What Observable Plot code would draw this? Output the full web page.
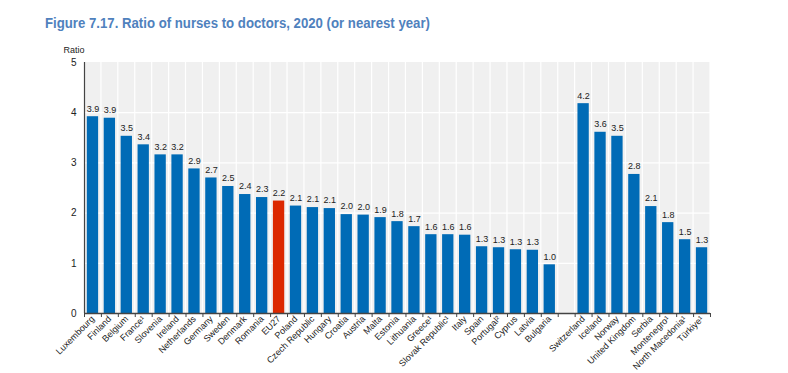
<!DOCTYPE html>
<html>
<head>
<meta charset="utf-8">
<script src="https://cdn.jsdelivr.net/npm/d3@7"></script>
<script src="https://cdn.jsdelivr.net/npm/@observablehq/plot@0.6"></script>
<style>
  body { margin: 0; background: #fff; width: 788px; height: 373px; position: relative; overflow: hidden; }
  #title { position: absolute; left: 45px; top: 15px; font-family: "Liberation Sans", Arial, sans-serif; font-weight: bold; font-size: 14.5px; line-height: 17px; color: #4f81bd; white-space: nowrap; transform: scaleX(0.91); transform-origin: left top; }
  #chart { position: absolute; left: 0; top: 30px; }
</style>
</head>
<body>
<div id="title">Figure 7.17. Ratio of nurses to doctors, 2020 (or nearest year)</div>
<div id="chart"></div>
<script>
const countries = ["Luxembourg","Finland","Belgium","France\u00B9","Slovenia","Ireland","Netherlands","Germany","Sweden","Denmark","Romania","EU27","Poland","Czech Republic","Hungary","Croatia","Austria","Malta","Estonia","Lithuania","Greece\u00B9","Slovak Republic\u00B9","Italy","Spain","Portugal\u00B2","Cyprus","Latvia","Bulgaria","","Switzerland","Iceland","Norway","United Kingdom","Serbia","Montenegro\u00B9","North Macedonia\u00B9","Türkiye\u00B9"];
const values = [3.92,3.89,3.53,3.36,3.16,3.16,2.88,2.70,2.53,2.37,2.31,2.24,2.14,2.11,2.09,1.97,1.96,1.91,1.83,1.73,1.57,1.57,1.56,1.33,1.31,1.27,1.26,0.97,null,4.18,3.61,3.53,2.77,2.13,1.81,1.47,1.31];
const highlight = "EU27";
const yTicks = [0,1,2,3,4,5];

const data = countries.map((c, i) => ({country: c, value: values[i]}));
const bars = data.filter(d => d.value != null);

const W = 788, H = 343, ML = 84, MR = 78, MT = 32, MB = 60;
const bw = (W - ML - MR) / countries.length;
const font = "Liberation Sans, Arial, sans-serif";

const chart = Plot.plot({
  width: W, height: H,
  marginLeft: ML, marginRight: MR, marginTop: MT, marginBottom: MB,
  style: {fontFamily: font, fontSize: "10px", color: "#222", background: "transparent", overflow: "visible"},
  x: {domain: countries, padding: 0, label: null},
  y: {domain: [0, 5], label: null},
  marks: [
    Plot.barY(countries, {x: d => d, y1: 0, y2: 5, fill: "#f0f0f0", insetLeft: 0.6, insetRight: 0.6}),
    Plot.ruleY([1,2,3,4], {stroke: "#fff", strokeWidth: 1.2}),
    Plot.barY(bars, {x: "country", y: "value", fill: d => d.country === highlight ? "#dc2800" : "#006bb6", insetLeft: 2.8, insetRight: 2.8}),
    Plot.text(bars, {x: "country", y: "value", text: d => d.value.toFixed(1), dy: -8, fill: "#222", fontSize: 9, fontFamily: font}),
    Plot.ruleY([0], {stroke: "#444", strokeWidth: 1.5}),
    Plot.ruleX([countries[0]], {y1: 0, y2: 5, dx: -bw / 2, stroke: "#444", strokeWidth: 1.2}),
    Plot.ruleX(countries, {x: d => d, y1: 0, y2: -0.08, dx: -bw / 2, stroke: "#444"}),
    Plot.ruleX([countries[countries.length - 1]], {y1: 0, y2: -0.08, dx: bw / 2, stroke: "#444"}),
    Plot.axisY(yTicks, {tickSize: 0, tickPadding: 8, fontSize: 10, tickFormat: d3.format("d"), label: null}),
    Plot.axisX({tickSize: 0, tickRotate: -45, tickPadding: 4, fontSize: 9, label: null}),
    Plot.text(["Ratio"], {frameAnchor: "top-left", text: d => d, dx: -21, dy: -16, textAnchor: "start", fontSize: 9, fill: "#222"})
  ]
});
document.getElementById("chart").appendChild(chart);
</script>
</body>
</html>
